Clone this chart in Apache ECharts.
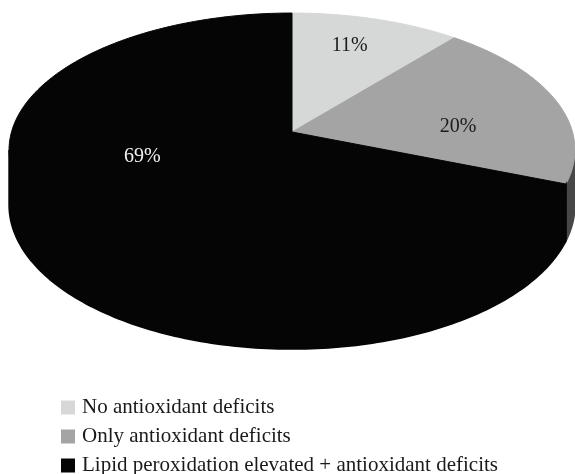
<!DOCTYPE html>
<html>
<head>
<meta charset="utf-8">
<script src="https://cdn.jsdelivr.net/npm/echarts@6/dist/echarts.min.js"></script>
<style>
html,body{margin:0;padding:0;background:#fff;}
#chart{width:575px;height:474px;}
</style>
</head>
<body>
<div id="chart"></div>
<script>
// ---- data ----
const categories = ['No antioxidant deficits', 'Only antioxidant deficits', 'Lipid peroxidation elevated + antioxidant deficits'];
const values = [11, 20, 69];
const labelTexts = ['11%', '20%', '69%'];

// ---- style ----
const topColors = ['#d6d8d7', '#a3a4a3', '#050505'];
const sideColors = ['#8f908f', '#474747', '#050505'];
const labelColors = ['#1a1a1a', '#1a1a1a', '#f2f2f2'];
const labelShift = [[3, -13], [1, 15], [1, -24]];   // label nudges (px) from the slice mid-angle anchor
const FONT = '"Liberation Serif", "DejaVu Serif", serif';

// ---- 3D pie geometry (perspective projection of a tilted disc) ----
const geo = { cx: 292, cy: 132, A: 280.5, B: 134.6, p: 0.1314, depth: 54, labelR: 0.62 };
const total = values.reduce((a, b) => a + b, 0);
const starts = [];
let acc = 0;
values.forEach(v => { starts.push(acc); acc += v; });

function proj(theta, f) {
  const X = f * Math.sin(theta), Z = f * Math.cos(theta);
  const den = 1 + geo.p * Z;
  return [geo.cx + geo.A * X / den, geo.cy - geo.B * Z / den, den];
}
const silA = Math.acos(-geo.p);
const silB = 2 * Math.PI - silA;

function arc(a, b, f) {
  const pts = [];
  const n = Math.max(2, Math.ceil((b - a) / (Math.PI / 180)));
  for (let k = 0; k <= n; k++) {
    const t = a + (b - a) * k / n;
    const q = proj(t, f);
    pts.push([q[0], q[1]]);
  }
  return pts;
}

function makeRender(i) {
  return function (params, api) {
    const v = api.value(0);
    const a = starts[i] / total * 2 * Math.PI;
    const b = a + v / total * 2 * Math.PI;
    const children = [];
    const wa = Math.max(a, silA), wb = Math.min(b, silB);
    if (wb > wa) {
      const topArc = arc(wa, wb, 1);
      const bottom = topArc.map((pt, k) => {
        const t = wa + (wb - wa) * k / (topArc.length - 1);
        const den = proj(t, 1)[2];
        return [pt[0], pt[1] + geo.depth / den];
      }).reverse();
      children.push({
        type: 'polygon',
        shape: { points: topArc.concat(bottom) },
        style: { fill: sideColors[i], stroke: sideColors[i], lineWidth: 1.5 }
      });
    }
    const apex = proj(0, 0);
    children.push({
      type: 'polygon',
      shape: { points: [[apex[0], apex[1]]].concat(arc(a, b, 1)) },
      style: { fill: topColors[i], stroke: topColors[i], lineWidth: 1 }
    });
    const mid = (a + b) / 2;
    const lp = proj(mid, geo.labelR);
    children.push({
      type: 'text',
      style: {
        text: labelTexts[i], x: lp[0] + labelShift[i][0], y: lp[1] + labelShift[i][1],
        fill: labelColors[i], font: '20px ' + FONT,
        align: 'center', verticalAlign: 'middle',
        textAlign: 'center', textVerticalAlign: 'middle'
      }
    });
    return { type: 'group', children: children };
  };
}

const chart = echarts.init(document.getElementById('chart'), null, { renderer: 'canvas' });
chart.setOption({
  animation: false,
  backgroundColor: '#ffffff',
  legend: {
    data: categories,
    orient: 'vertical',
    left: 61,
    top: 397,
    height: 120,
    padding: 0,
    icon: 'rect',
    itemWidth: 14,
    itemHeight: 14,
    itemGap: 8,
    selectedMode: false,
    textStyle: { fontFamily: FONT, fontSize: 21, color: '#1a1a1a', lineHeight: 20, padding: [0, 0, 0, 2] }
  },
  series: categories.map((name, i) => ({
    type: 'custom',
    name: name,
    coordinateSystem: 'none',
    itemStyle: { color: topColors[i] },
    data: [values[i]],
    renderItem: makeRender(i)
  }))
});
</script>
</body>
</html>
